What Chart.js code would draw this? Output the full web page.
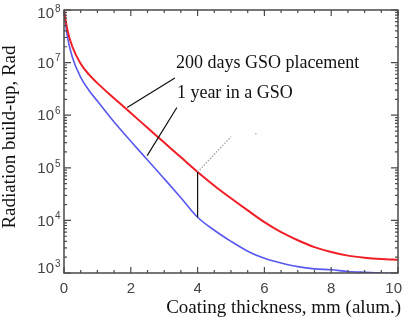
<!DOCTYPE html>
<html>
<head>
<meta charset="utf-8">
<script src="https://cdn.jsdelivr.net/npm/chart.js@4.4.1/dist/chart.umd.min.js"></script>
<style>
  body { margin: 0; background: #fff; }
</style>
</head>
<body>
<canvas id="dose_chart" width="408" height="322"></canvas>
<script>
// coating thickness, mm of aluminium
var thickness = [0, 0.1, 0.25, 0.5, 0.75, 1, 1.5, 2, 2.5, 3, 3.5, 4, 4.5, 5, 5.5, 6, 6.5, 7, 7.5, 8, 8.5, 9, 9.5, 10];
// dose, rad
var dose200days = [1e8, 4.2e7, 2.0e7, 9.5e6, 5.9e6, 4.07e6, 2.09e6, 1.1e6, 5.75e5, 3.02e5, 1.58e5, 8.3e4, 4.57e4, 2.63e4, 1.55e4, 9.3e3, 6.0e3, 4.2e3, 3.1e3, 2.5e3, 2.14e3, 1.95e3, 1.84e3, 1.78e3];
var dose1year = [1e8, 3.16e7, 1.26e7, 5.25e6, 2.95e6, 1.86e6, 7.4e5, 3.2e5, 1.41e5, 6.2e4, 2.7e4, 1.15e4, 6.5e3, 4.0e3, 2.6e3, 1.9e3, 1.55e3, 1.32e3, 1.2e3, 1.15e3, 1.07e3, 1.03e3, 1.0e3, 0.98e3];

var xTickLabels = ['0', '2', '4', '6', '8', '10'];
var yTickExponents = ['3', '4', '5', '6', '7', '8'];

var label200days = '200 days GSO placement';
var label1year = '1 year in a GSO';

function points(ys) {
    return thickness.map(function (x, i) { return { x: x, y: ys[i] }; });
}

var frame = {
    id: 'frame',
    afterDatasetsDraw: function (chart) {
        var c = chart.ctx, a = chart.chartArea;
        var sx = chart.scales.x, sy = chart.scales.y;
        var X = function (v) { return sx.getPixelForValue(v); };
        var Y = function (v) { return sy.getPixelForValue(v); };
        c.save();

        // box
        c.strokeStyle = '#4a4a4a';
        c.lineWidth = 1.5;
        c.strokeRect(a.left, a.top, a.right - a.left, a.bottom - a.top);

        // x ticks, inward, bottom and top
        c.lineWidth = 1.2;
        c.beginPath();
        for (var t = 0; t <= 20; t++) {
            var v = t * 0.5, px = X(v);
            var len = (t % 4 === 0) ? 6 : 3;
            c.moveTo(px, a.bottom); c.lineTo(px, a.bottom - len);
            c.moveTo(px, a.top); c.lineTo(px, a.top + len);
        }
        // y ticks, log minor
        for (var e = 3; e <= 8; e++) {
            for (var m = 1; m <= 9; m++) {
                var val = m * Math.pow(10, e);
                if (val > 1e8) break;
                var py = Y(val);
                var l = (m === 1) ? 7 : 3;
                c.moveTo(a.left, py); c.lineTo(a.left + l, py);
                c.moveTo(a.right, py); c.lineTo(a.right - l, py);
            }
        }
        c.stroke();

        // tick labels
        c.fillStyle = '#444';
        c.font = '15px "Liberation Sans", Arial, sans-serif';
        c.textAlign = 'center';
        c.textBaseline = 'alphabetic';
        xTickLabels.forEach(function (s) {
            var px = Math.min(X(parseFloat(s)), chart.width - c.measureText(s).width / 2 - 6);
            c.fillText(s, px, 293);
        });
        yTickExponents.forEach(function (s) {
            var py = Y(Math.pow(10, parseInt(s, 10)));
            py = Math.min(Math.max(py, a.top + 3), a.bottom - 5);
            c.font = '15px "Liberation Sans", Arial, sans-serif';
            c.textAlign = 'right';
            c.textBaseline = 'middle';
            var expW = 7;
            c.fillText('10', a.left - 3 - expW, py + 1);
            c.font = '10px "Liberation Sans", Arial, sans-serif';
            c.textAlign = 'left';
            c.fillText(s, a.left - 2 - expW, py - 4);
        });

        // axis titles
        c.fillStyle = '#111';
        c.font = '19px "Liberation Serif", "Times New Roman", serif';
        c.textAlign = 'right';
        c.textBaseline = 'alphabetic';
        c.fillText('Coating thickness, mm (alum.)', 401, 313);
        c.translate(15, 137);
        c.rotate(-Math.PI / 2);
        c.textAlign = 'center';
        c.fillText('Radiation build-up, Rad', 0, 0);
        c.setTransform(1, 0, 0, 1, 0, 0);

        // annotations
        c.font = '18px "Liberation Serif", "Times New Roman", serif';
        c.textAlign = 'left';
        c.fillText(label200days, X(3.35), Y(7.9e6));
        c.fillText(label1year, X(3.38), Y(2.1e6));

        c.strokeStyle = '#111';
        c.lineWidth = 1.2;
        c.beginPath();
        c.moveTo(X(3.32), Y(5.1e6)); c.lineTo(X(1.89), Y(1.4e6));
        c.moveTo(X(3.38), Y(1.4e6)); c.lineTo(X(2.49), Y(1.7e5));
        var i4 = thickness.indexOf(4);
        c.moveTo(X(4), Y(dose200days[i4])); c.lineTo(X(4), Y(dose1year[i4]));
        c.stroke();

        c.strokeStyle = '#999';
        c.setLineDash([1.5, 1.5]);
        c.beginPath();
        c.moveTo(X(4), Y(dose200days[i4])); c.lineTo(X(5.0), Y(3.9e5));
        c.stroke();
        c.setLineDash([]);
        c.fillStyle = '#bbb';
        c.fillRect(X(5.72), Y(4.6e5), 1.5, 1.5);

        c.restore();
    }
};

var ctx = document.getElementById('dose_chart').getContext('2d');

var doseChart = new Chart(ctx, {
    type: 'line',
    data: {
        datasets: [{
            label: label200days,
            data: points(dose200days),
            borderColor: '#f01e26',
            borderWidth: 2,
            pointRadius: 0,
            cubicInterpolationMode: 'monotone'
        }, {
            label: label1year,
            data: points(dose1year),
            borderColor: '#5858f0',
            borderWidth: 1.6,
            pointRadius: 0,
            cubicInterpolationMode: 'monotone'
        }]
    },
    options: {
        responsive: false,
        animation: false,
        layout: {
            autoPadding: false,
            padding: { left: 64, right: 10, top: 10, bottom: 49 }
        },
        plugins: {
            legend: { display: false },
            tooltip: { enabled: false }
        },
        scales: {
            x: {
                type: 'linear',
                min: 0,
                max: 10,
                ticks: { display: false },
                grid: { display: false, drawTicks: false },
                border: { display: false }
            },
            y: {
                type: 'logarithmic',
                min: 1e3,
                max: 1e8,
                ticks: { display: false },
                grid: { display: false, drawTicks: false },
                border: { display: false }
            }
        }
    },
    plugins: [frame]
});
</script>
</body>
</html>
